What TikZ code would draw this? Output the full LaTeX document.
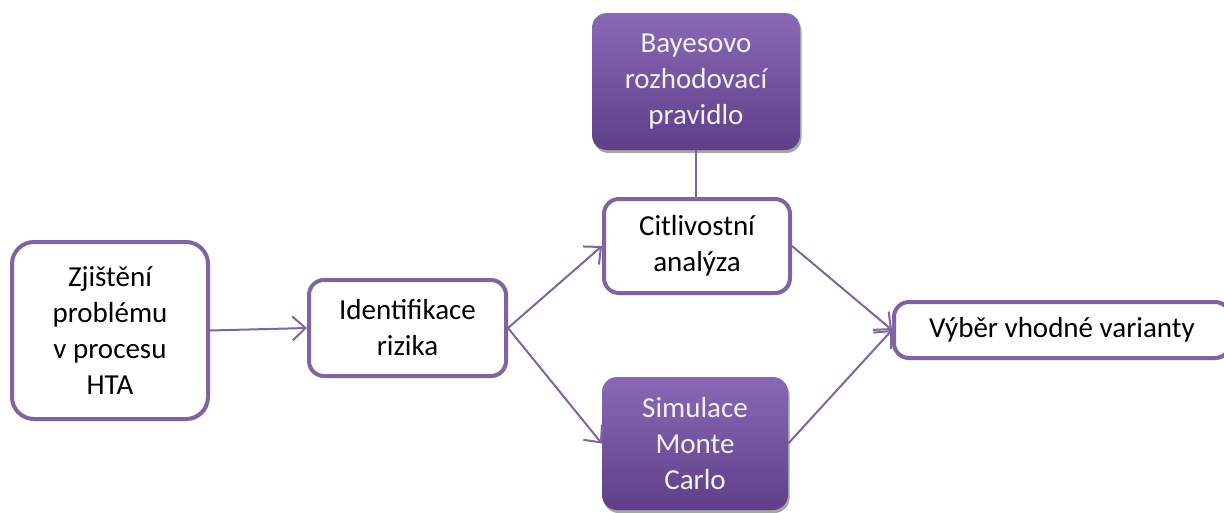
\documentclass[tikz,border=0pt]{standalone}
\usepackage{fontspec}
\setmainfont{Carlito}
\usetikzlibrary{arrows.meta,shadows}
\definecolor{lila}{HTML}{8064A2}
\definecolor{lilatop}{HTML}{8A68B6}
\definecolor{lilabot}{HTML}{5E3F88}
\tikzset{
  every node/.style={font=\fontsize{29pt}{36pt}\selectfont, align=center},
  plainbox/.style={draw=lila, line width=4pt, fill=white, rounded corners=15pt,
    drop shadow={shadow xshift=1.5pt, shadow yshift=-2pt, opacity=0.18, fill=black}},
  fullbox/.style={draw=none, rounded corners=15pt, top color=lilatop, bottom color=lilabot,
    text=white!95!black,
    drop shadow={shadow xshift=1.5pt, shadow yshift=-3pt, opacity=0.35, fill=black}},
  link/.style={draw=lila, line width=2pt},
  arrowlink/.style={link, -{Straight Barb[length=13pt,width=24pt,line width=2pt]}},
}
\begin{document}
\begin{tikzpicture}[x=1pt,y=-1pt]
  \useasboundingbox (0,0) rectangle (1224,512);
  \clip (0,0) rectangle (1224,512);

  % process boxes
  \node[plainbox, minimum width=196pt, minimum height=177pt, rounded corners=22pt]
    (zjist) at (110,330.5) {Zjištění\\problému\\v procesu\\HTA};
  \node[plainbox, minimum width=197pt, minimum height=96pt]
    (ident) at (407.5,328) {Identifikace\\rizika};
  \node[plainbox, minimum width=186pt, minimum height=94pt]
    (citl) at (697,246) {Citlivostní\\analýza};
  \node[fullbox, minimum width=208pt, minimum height=137pt]
    (bayes) at (696,81.5) {Bayesovo\\rozhodovací\\pravidlo};
  \node[fullbox, minimum width=186pt, minimum height=133pt]
    (monte) at (695,443.5) {Simulace\\Monte\\Carlo};
  \node[plainbox, minimum width=336pt, minimum height=56pt]
    (vyber) at (1062,330) {Výběr vhodné varianty};

  % connectors
  \draw[arrowlink] (zjist.east) -- (ident.west);
  \draw[arrowlink] (ident.east) -- (citl.west);
  \draw[arrowlink] (ident.east) -- (monte.west);
  \draw[arrowlink] (citl.east) -- (vyber.west);
  \draw[arrowlink] (monte.east) -- (vyber.west);
  \draw[link] (bayes.south) -- (bayes.south |- citl.north);
\end{tikzpicture}
\end{document}
